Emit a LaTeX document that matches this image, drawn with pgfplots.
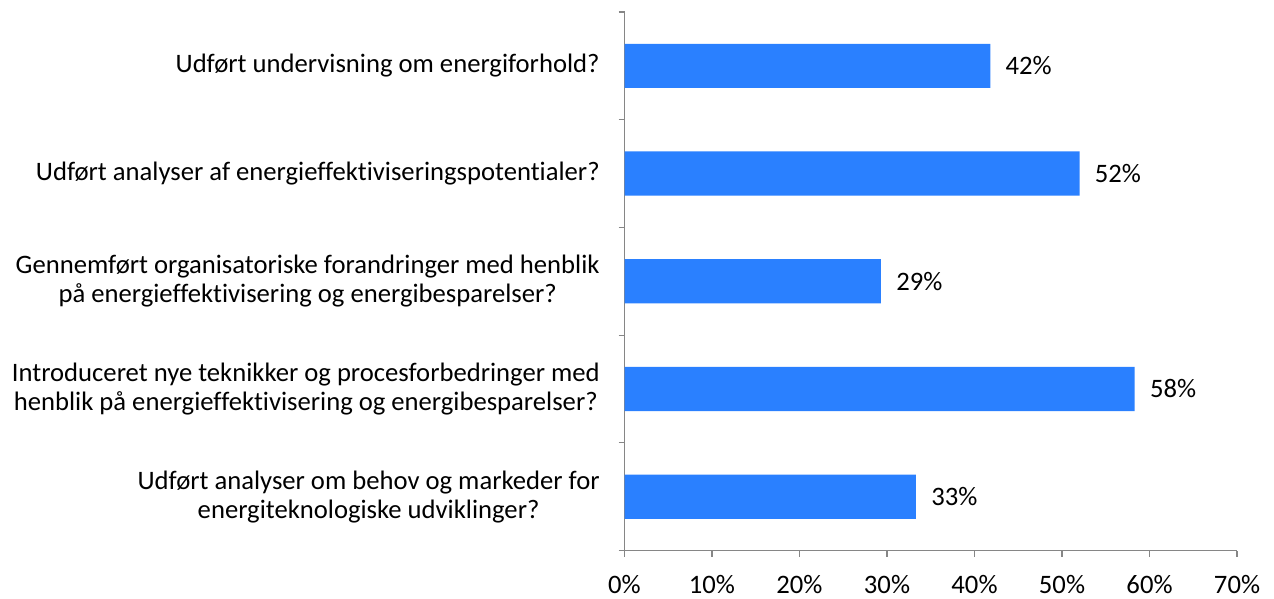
\documentclass[border=0pt]{standalone}
\usepackage{pgfplots}
\pgfplotsset{compat=1.18}
\usepackage{fontspec}
\setmainfont[Ligatures=NoCommon]{Carlito}
\definecolor{barblue}{HTML}{2A80FF}
\definecolor{axgray}{HTML}{868686}

\begin{document}
\begin{tikzpicture}
\useasboundingbox (-468.75pt,-36pt) rectangle (487.5pt,413.25pt);
\begin{axis}[
    at={(0,0)}, anchor=south west,
    scale only axis,
    width=459.75pt, height=404.25pt,
    xbar, bar width=0.41,
    xmin=0, xmax=70,
    ymin=-0.5, ymax=4.5,
    xtick={0,10,...,70},
    xticklabel={\pgfmathprintnumber{\tick}\%},
    ytick={0,1,2,3,4},
    yticklabels={
        {Udført analyser om behov og markeder for\\energiteknologiske udviklinger?},
        {Introduceret nye teknikker og procesforbedringer med\\henblik på energieffektivisering og energibesparelser?},
        {Gennemført organisatoriske forandringer med henblik\\på energieffektivisering og energibesparelser?},
        {Udført analyser af energieffektiviseringspotentialer?},
        {Udført undervisning om energiforhold?}},
    minor ytick={-0.5,0.5,...,4.5},
    axis x line*=bottom, axis y line*=left,
    axis line style={axgray, line width=0.9pt},
    every tick/.style={axgray, line width=0.9pt},
    tick align=outside,
    major tick length=4.5pt,
    minor tick length=4.5pt,
    every major y tick/.style={draw=none},
    yticklabel style={align=center, inner sep=0pt, xshift=-14pt, font=\fontsize{20}{21.75}\selectfont},
    xticklabel style={inner sep=0pt, yshift=-14pt, font=\fontsize{20}{22}\selectfont},
    /pgf/number format/assume math mode=true,
    nodes near coords={\pgfmathprintnumber{\pgfplotspointmeta}\%},
    nodes near coords style={anchor=west, xshift=8pt, font=\fontsize{20}{22}\selectfont, black},
    point meta=explicit symbolic,
    clip=false,
]
\addplot[fill=barblue, draw=none] coordinates {
    (33.3,0) [33]
    (58.3,1) [58]
    (29.3,2) [29]
    (52.0,3) [52]
    (41.8,4) [42]
};
\end{axis}
\end{tikzpicture}
\end{document}
